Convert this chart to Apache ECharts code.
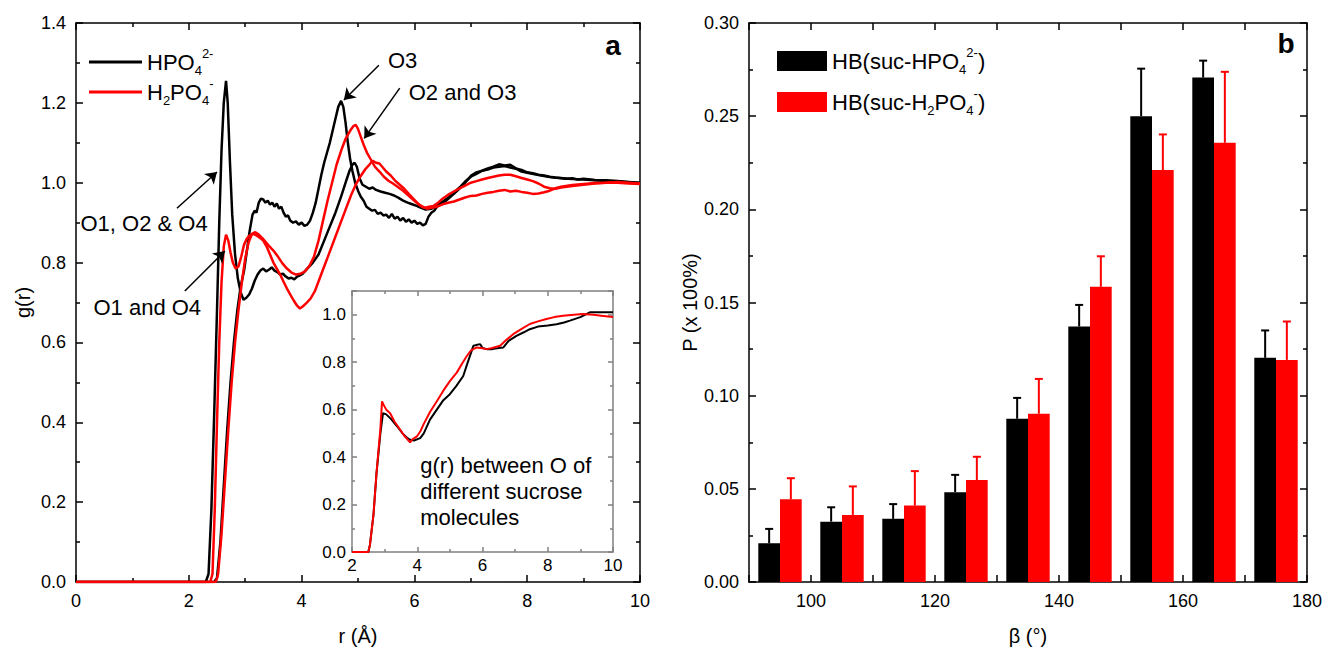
<!DOCTYPE html>
<html><head><meta charset="utf-8">
<script src="https://cdn.jsdelivr.net/npm/echarts@6/dist/echarts.min.js"></script>
<style>html,body{margin:0;padding:0;background:#fff}#c{width:1326px;height:651px}</style>
</head><body><div id="c"></div><script>
// ---------- DATA ----------
// Panel a: g(r) curves, [r (Å), g(r)]
const hpo4_O124 = [[0,0],[2.3,0],[2.35,0.02],[2.4,0.18],[2.45,0.42],[2.5,0.68],[2.54,0.9],[2.58,1.08],[2.62,1.2],[2.66,1.255],[2.69,1.2],[2.73,1.05],[2.77,0.92],[2.82,0.82],[2.87,0.76],[2.92,0.725],[2.97,0.707],[3.02,0.712],[3.07,0.72],[3.12,0.735],[3.17,0.755],[3.22,0.77],[3.27,0.78],[3.32,0.785],[3.37,0.778],[3.42,0.782],[3.47,0.788],[3.52,0.78],[3.57,0.776],[3.62,0.77],[3.67,0.772],[3.72,0.765],[3.77,0.76],[3.82,0.762],[3.87,0.758],[3.92,0.765],[3.97,0.768],[4.02,0.772],[4.1,0.785],[4.2,0.8],[4.3,0.82],[4.4,0.855],[4.5,0.89],[4.6,0.925],[4.7,0.965],[4.78,1.0],[4.85,1.03],[4.9,1.045],[4.94,1.05],[4.98,1.04],[5.03,1.01],[5.08,0.995],[5.14,0.99],[5.2,0.985],[5.26,0.988],[5.32,0.982],[5.4,0.978],[5.48,0.975],[5.56,0.972],[5.64,0.968],[5.72,0.962],[5.8,0.955],[5.88,0.95],[5.96,0.946],[6.04,0.942],[6.12,0.937],[6.2,0.933],[6.3,0.935],[6.4,0.942],[6.5,0.952],[6.6,0.962],[6.7,0.975],[6.8,0.988],[6.9,1.003],[7.0,1.015],[7.1,1.022],[7.2,1.03],[7.3,1.033],[7.4,1.038],[7.5,1.04],[7.6,1.042],[7.7,1.038],[7.8,1.035],[7.9,1.028],[8.0,1.025],[8.2,1.019],[8.4,1.014],[8.6,1.011],[8.8,1.009],[9.0,1.008],[9.2,1.006],[9.4,1.004],[9.6,1.003],[9.8,1.001],[10,0.999]];
const hpo4_O3 = [[0,0],[2.45,0],[2.5,0.01],[2.56,0.1],[2.62,0.24],[2.68,0.38],[2.74,0.5],[2.8,0.6],[2.86,0.68],[2.92,0.74],[2.98,0.78],[3.03,0.83],[3.08,0.88],[3.13,0.92],[3.17,0.93],[3.2,0.925],[3.24,0.95],[3.28,0.96],[3.32,0.958],[3.36,0.95],[3.4,0.955],[3.44,0.945],[3.48,0.95],[3.52,0.94],[3.56,0.948],[3.6,0.935],[3.64,0.94],[3.68,0.925],[3.72,0.915],[3.76,0.918],[3.8,0.905],[3.85,0.9],[3.9,0.903],[3.95,0.895],[4.0,0.9],[4.05,0.892],[4.1,0.895],[4.15,0.905],[4.2,0.925],[4.25,0.95],[4.3,0.985],[4.35,1.02],[4.4,1.05],[4.45,1.075],[4.5,1.1],[4.55,1.13],[4.6,1.16],[4.65,1.19],[4.7,1.205],[4.74,1.19],[4.78,1.15],[4.82,1.1],[4.86,1.06],[4.9,1.03],[4.95,1.0],[5.0,0.98],[5.05,0.965],[5.1,0.955],[5.15,0.94],[5.2,0.935],[5.25,0.93],[5.3,0.932],[5.35,0.922],[5.4,0.925],[5.45,0.918],[5.5,0.92],[5.55,0.912],[5.6,0.922],[5.65,0.91],[5.7,0.915],[5.75,0.905],[5.8,0.912],[5.85,0.902],[5.9,0.908],[5.95,0.9],[6.0,0.905],[6.05,0.897],[6.1,0.9],[6.15,0.893],[6.2,0.897],[6.25,0.915],[6.3,0.925],[6.35,0.93],[6.4,0.94],[6.5,0.948],[6.6,0.96],[6.7,0.972],[6.8,0.985],[6.9,1.0],[7.0,1.017],[7.1,1.026],[7.2,1.03],[7.3,1.036],[7.4,1.04],[7.5,1.046],[7.6,1.043],[7.7,1.045],[7.8,1.036],[7.9,1.032],[8.0,1.026],[8.1,1.024],[8.2,1.02],[8.3,1.018],[8.4,1.015],[8.5,1.013],[8.6,1.012],[8.7,1.01],[8.8,1.011],[8.9,1.008],[9.0,1.01],[9.2,1.007],[9.4,1.006],[9.6,1.004],[9.8,1.002],[10,1.0]];
const h2po4_O14 = [[0,0],[2.38,0],[2.42,0.02],[2.46,0.18],[2.5,0.4],[2.54,0.6],[2.58,0.75],[2.62,0.84],[2.66,0.87],[2.7,0.855],[2.74,0.825],[2.78,0.8],[2.83,0.785],[2.88,0.79],[2.93,0.815],[2.98,0.845],[3.03,0.86],[3.08,0.868],[3.14,0.872],[3.2,0.868],[3.26,0.862],[3.32,0.855],[3.38,0.84],[3.44,0.82],[3.5,0.8],[3.56,0.785],[3.62,0.77],[3.68,0.752],[3.74,0.735],[3.8,0.72],[3.86,0.705],[3.92,0.692],[3.97,0.685],[4.02,0.69],[4.08,0.698],[4.16,0.71],[4.24,0.73],[4.32,0.76],[4.4,0.79],[4.48,0.82],[4.56,0.85],[4.64,0.88],[4.72,0.91],[4.8,0.94],[4.88,0.97],[4.96,0.995],[5.04,1.015],[5.12,1.032],[5.2,1.045],[5.26,1.055],[5.32,1.05],[5.38,1.048],[5.44,1.038],[5.5,1.028],[5.58,1.018],[5.66,1.005],[5.74,0.995],[5.82,0.985],[5.9,0.972],[5.98,0.96],[6.06,0.948],[6.14,0.94],[6.22,0.935],[6.3,0.937],[6.4,0.94],[6.5,0.946],[6.6,0.95],[6.7,0.953],[6.8,0.958],[6.9,0.963],[7.0,0.967],[7.1,0.968],[7.2,0.972],[7.3,0.975],[7.4,0.977],[7.5,0.98],[7.6,0.982],[7.7,0.978],[7.8,0.98],[7.9,0.977],[8.0,0.975],[8.1,0.972],[8.2,0.973],[8.3,0.976],[8.4,0.98],[8.5,0.986],[8.6,0.99],[8.8,0.994],[9.0,0.997],[9.2,0.999],[9.4,1.0],[9.6,1.002],[9.8,1.0],[10,0.998]];
const h2po4_O23 = [[0,0],[2.48,0],[2.52,0.02],[2.58,0.12],[2.64,0.25],[2.7,0.38],[2.76,0.5],[2.82,0.6],[2.88,0.68],[2.94,0.75],[3.0,0.81],[3.06,0.85],[3.12,0.872],[3.18,0.876],[3.24,0.87],[3.3,0.862],[3.36,0.852],[3.42,0.842],[3.5,0.83],[3.58,0.815],[3.66,0.798],[3.74,0.785],[3.82,0.775],[3.9,0.77],[3.98,0.772],[4.06,0.778],[4.14,0.792],[4.22,0.815],[4.3,0.855],[4.38,0.905],[4.46,0.955],[4.54,1.0],[4.62,1.045],[4.7,1.08],[4.78,1.11],[4.86,1.13],[4.92,1.142],[4.96,1.145],[5.0,1.135],[5.05,1.115],[5.1,1.095],[5.16,1.075],[5.22,1.06],[5.3,1.04],[5.38,1.028],[5.46,1.015],[5.54,1.005],[5.62,0.998],[5.7,0.99],[5.78,0.982],[5.86,0.972],[5.94,0.962],[6.02,0.952],[6.1,0.943],[6.18,0.937],[6.26,0.94],[6.34,0.942],[6.42,0.95],[6.5,0.96],[6.6,0.97],[6.7,0.978],[6.8,0.986],[6.9,0.993],[7.0,1.0],[7.1,1.004],[7.2,1.008],[7.3,1.012],[7.4,1.015],[7.5,1.018],[7.6,1.02],[7.7,1.02],[7.8,1.016],[7.9,1.012],[8.0,1.008],[8.1,1.004],[8.2,0.998],[8.3,0.99],[8.4,0.986],[8.5,0.985],[8.6,0.988],[8.8,0.992],[9.0,0.995],[9.2,0.998],[9.4,1.0],[9.6,1.0],[9.8,0.998],[10,0.997]];
// Inset: g(r) between O of different sucrose molecules
const inset_hpo4 = [[2,0],[2.5,0],[2.55,0.03],[2.66,0.16],[2.75,0.33],[2.87,0.5],[2.95,0.585],[3.05,0.58],[3.2,0.56],[3.38,0.53],[3.55,0.5],[3.7,0.48],[3.78,0.473],[3.9,0.47],[4.09,0.48],[4.2,0.5],[4.39,0.558],[4.6,0.6],[4.8,0.64],[5.0,0.665],[5.2,0.7],[5.41,0.742],[5.55,0.8],[5.72,0.869],[5.8,0.872],[5.93,0.876],[6.0,0.86],[6.13,0.855],[6.3,0.855],[6.5,0.86],[6.64,0.862],[6.8,0.89],[7.04,0.911],[7.25,0.925],[7.45,0.939],[7.7,0.95],[8.0,0.955],[8.27,0.96],[8.5,0.967],[8.68,0.975],[9.0,0.99],[9.29,1.01],[9.6,1.01],[10,1.01]];
const inset_h2po4 = [[2,0],[2.5,0],[2.55,0.03],[2.66,0.16],[2.75,0.33],[2.87,0.52],[2.92,0.635],[2.97,0.62],[3.05,0.6],[3.17,0.585],[3.3,0.55],[3.48,0.515],[3.6,0.49],[3.7,0.475],[3.78,0.462],[3.85,0.475],[3.99,0.487],[4.1,0.51],[4.2,0.54],[4.39,0.59],[4.6,0.635],[4.8,0.68],[5.0,0.72],[5.21,0.756],[5.4,0.8],[5.52,0.826],[5.65,0.85],[5.82,0.862],[5.95,0.86],[6.13,0.855],[6.3,0.86],[6.54,0.869],[6.7,0.89],[6.94,0.918],[7.2,0.94],[7.45,0.961],[7.7,0.972],[7.96,0.982],[8.2,0.99],[8.47,0.996],[8.8,1.0],[9.08,1.003],[9.4,1.0],[9.7,0.995],[10,0.99]];
// Annotations (data coordinates)
const annotTexts = [
  {text:'O1, O2 & O4', r:0.08, g:0.899},
  {text:'O1 and O4',   r:0.31, g:0.687},
  {text:'O3',          r:5.53, g:1.307},
  {text:'O2 and O3',   r:5.90, g:1.226}
];
const annotArrows = [
  {r0:1.79, g0:0.936, r1:2.50, g1:1.027},
  {r0:1.93, g0:0.729, r1:2.64, g1:0.829},
  {r0:5.37, g0:1.294, r1:4.75, g1:1.207},
  {r0:5.74, g0:1.237, r1:5.11, g1:1.111}
];
const insetNote = {text:'g(r) between O of\ndifferent sucrose\nmolecules', r:4.09, g:0.257};

// Panel b: H-bond angle distribution
const betaCenters = [95,105,115,125,135,145,155,165,175];
const hpo4P   = [0.0208,0.0324,0.0339,0.0482,0.0876,0.1371,0.2500,0.2707,0.1203];
const hpo4Err = [0.0077,0.0077,0.0079,0.0093,0.0112,0.0116,0.0255,0.0091,0.0147];
const h2po4P   = [0.0444,0.0360,0.0410,0.0547,0.0903,0.1584,0.2211,0.2357,0.1192];
const h2po4Err = [0.0113,0.0153,0.0185,0.0125,0.0187,0.0164,0.0191,0.0381,0.0206];

// ---------- STYLE ----------
const FF = '"Liberation Sans", Arial, sans-serif';
const BLACK = '#000000', RED = '#ff0000';
const BAR_W = 3.5;   // bar width in axis units
const CAP = 4;       // half cap width px

const RICH = {
  n:   {fontSize:22, fontFamily:FF, color:'#000', lineHeight:30, verticalAlign:'middle'},
  sub: {fontSize:13, fontFamily:FF, color:'#000', lineHeight:13, verticalAlign:'bottom'},
  sup: {fontSize:13, fontFamily:FF, color:'#000', lineHeight:13, verticalAlign:'top'}
};
const legendLabels = {
  'HPO4':  '{n|HPO}{sub|4}{sup|2-}',
  'H2PO4': '{n|H}{sub|2}{n|PO}{sub|4}{sup|-}',
  'HBsuc-HPO4':  '{n|HB(suc-HPO}{sub|4}{sup|2-}{n|)}',
  'HBsuc-H2PO4': '{n|HB(suc-H}{sub|2}{n|PO}{sub|4}{sup|-}{n|)}'
};

function axis(o){
  const lc = o.lineColor || '#000';
  return {
    type:'value', gridIndex:o.grid, position:o.pos, min:o.min, max:o.max, interval:o.interval,
    axisLine:{show:true, onZero:false, lineStyle:{color:lc, width:1.5}},
    axisTick:{show:true, inside:true, length:o.tick||7, lineStyle:{color:lc, width:1.5}},
    minorTick:{show:o.minor!==false, splitNumber:2, length:o.mtick||4, lineStyle:{color:lc, width:1.5}},
    splitLine:{show:false}, minorSplitLine:{show:false},
    axisLabel:{show:!!o.label, fontSize:o.fs||18, color:'#000', fontFamily:FF, margin:o.margin||10,
               formatter:o.fmt, showMaxLabel:o.showMax!==false},
    name:o.name||'', nameLocation:'middle', nameGap:o.nameGap||40,
    nameTextStyle:{fontSize:20, color:'#000', fontFamily:FF}
  };
}
const isMult = (v, s) => Math.abs(v/s - Math.round(v/s)) < 1e-6;

function barRender(side, color){
  return function(params, api){
    const c = api.value(0), v = api.value(1), e = api.value(2);
    const x0 = side < 0 ? c - BAR_W : c;
    const x1 = side < 0 ? c : c + BAR_W;
    const tl = api.coord([x0, v]);
    const br = api.coord([x1, 0]);
    const top = api.coord([c, v + e]);
    const mid = (tl[0] + br[0]) / 2;
    return {type:'group', children:[
      {type:'rect', shape:{x:tl[0], y:tl[1], width:br[0]-tl[0], height:br[1]-tl[1]}, style:{fill:color}},
      {type:'line', shape:{x1:mid, y1:tl[1], x2:mid, y2:top[1]}, style:{stroke:color, lineWidth:2}},
      {type:'line', shape:{x1:mid-CAP, y1:top[1], x2:mid+CAP, y2:top[1]}, style:{stroke:color, lineWidth:2}}
    ]};
  };
}

const chart = echarts.init(document.getElementById('c'), null, {renderer:'svg'});
const lineS = (name, data, color, x, y, w) => ({
  type:'line', name, data, xAxisIndex:x, yAxisIndex:y, symbol:'none', showSymbol:false,
  lineStyle:{color, width:w}, itemStyle:{color}, silent:true, animation:false
});

const s0 = lineS('HPO4', hpo4_O124, BLACK, 0, 0, 2.5);
s0.markLine = {
  silent:true, symbol:['none','arrow'], symbolSize:11, animation:false,
  lineStyle:{color:'#000', width:1.5, type:'solid'}, label:{show:false},
  emphasis:{disabled:true},
  data: annotArrows.map(a => [{coord:[a.r0, a.g0]}, {coord:[a.r1, a.g1]}])
};
s0.markPoint = {
  silent:true, symbol:'circle', symbolSize:0, animation:false,
  label:{show:true, position:'right', distance:0, formatter:'{b}', fontSize:22, color:'#000', fontFamily:FF},
  data: annotTexts.map(a => ({name:a.text, coord:[a.r, a.g]}))
};
const s7 = lineS('inset-H2PO4', inset_h2po4, RED, 4, 4, 2);
s7.markPoint = {
  silent:true, symbol:'circle', symbolSize:0, animation:false,
  label:{show:true, position:'right', distance:0, formatter:'{b}', fontSize:22, lineHeight:26, color:'#000', fontFamily:FF, align:'left'},
  data: [{name:insetNote.text, coord:[insetNote.r, insetNote.g]}]
};

const option = {
  animation:false,
  backgroundColor:'#fff',
  grid:[
    {left:76, top:23, width:564, height:560},
    {left:749, top:23, width:558, height:560},
    {left:352, top:291, width:261, height:261, show:true, backgroundColor:'#fff', borderWidth:0}
  ],
  xAxis:[
    axis({grid:0, pos:'bottom', min:0, max:10, interval:2, label:true, name:'r (Å)', nameGap:44}),
    axis({grid:0, pos:'top', min:0, max:10, interval:2}),
    axis({grid:1, pos:'bottom', min:90, max:180, interval:10, minor:false, label:true, name:'β (°)', nameGap:44,
          fmt:v => isMult(v,20) ? String(v) : ''}),
    axis({grid:1, pos:'top', min:90, max:180, interval:10, minor:false}),
    axis({grid:2, pos:'bottom', min:2, max:10, interval:2, label:true, fs:17, margin:5, lineColor:'#808080', tick:5, mtick:3}),
    axis({grid:2, pos:'top', min:2, max:10, interval:2, lineColor:'#808080', tick:5, mtick:3})
  ],
  yAxis:[
    axis({grid:0, pos:'left', min:0, max:1.4, interval:0.2, label:true, name:'g(r)', nameGap:43, fmt:v => v.toFixed(1)}),
    axis({grid:0, pos:'right', min:0, max:1.4, interval:0.2}),
    axis({grid:1, pos:'left', min:0, max:0.3, interval:0.05, label:true, name:'P (x 100%)', nameGap:46, fmt:v => v.toFixed(2)}),
    axis({grid:1, pos:'right', min:0, max:0.3, interval:0.05}),
    axis({grid:2, pos:'left', min:0, max:1.1, interval:0.2, label:true, fs:17, margin:6, lineColor:'#808080', tick:5, mtick:3, showMax:false,
          fmt:v => isMult(v,0.2) ? v.toFixed(1) : ''}),
    axis({grid:2, pos:'right', min:0, max:1.1, interval:0.2, lineColor:'#808080', tick:5, mtick:3})
  ],
  legend:[
    {orient:'vertical', left:89, top:47, padding:0, itemGap:0, itemWidth:53, itemHeight:3, selectedMode:false,
     data:[{name:'HPO4', icon:'rect'}, {name:'H2PO4', icon:'rect'}],
     formatter:n => legendLabels[n], textStyle:{rich:RICH}},
    {orient:'vertical', left:777, top:46, padding:0, itemGap:11, itemWidth:50, itemHeight:20, selectedMode:false,
     data:[{name:'HBsuc-HPO4', icon:'rect'}, {name:'HBsuc-H2PO4', icon:'rect'}],
     formatter:n => legendLabels[n], textStyle:{rich:RICH}}
  ],
  graphic:[
    {type:'text', x:613, y:45, style:{text:'a', font:'bold 28px ' + FF, fill:'#000', align:'center', verticalAlign:'middle'}},
    {type:'text', x:1286, y:43, style:{text:'b', font:'bold 28px ' + FF, fill:'#000', align:'center', verticalAlign:'middle'}}
  ],
  series:[
    s0,
    lineS('HPO4', hpo4_O3, BLACK, 0, 0, 2.5),
    lineS('H2PO4', h2po4_O14, RED, 0, 0, 2.5),
    lineS('H2PO4', h2po4_O23, RED, 0, 0, 2.5),
    {type:'custom', name:'HBsuc-HPO4', xAxisIndex:2, yAxisIndex:2, itemStyle:{color:BLACK}, silent:true,
     renderItem:barRender(-1, BLACK), encode:{x:0, y:1},
     data:betaCenters.map((b,i) => [b, hpo4P[i], hpo4Err[i]])},
    {type:'custom', name:'HBsuc-H2PO4', xAxisIndex:2, yAxisIndex:2, itemStyle:{color:RED}, silent:true,
     renderItem:barRender(1, RED), encode:{x:0, y:1},
     data:betaCenters.map((b,i) => [b, h2po4P[i], h2po4Err[i]])},
    lineS('inset-HPO4', inset_hpo4, BLACK, 4, 4, 2),
    s7
  ]
};
chart.setOption(option);
</script></body></html>
